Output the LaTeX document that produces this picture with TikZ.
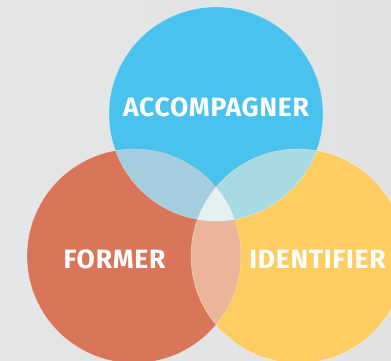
\documentclass[tikz,border=0pt]{standalone}
\usepackage{fontspec}
\setmainfont{Fira Sans}[LetterSpace=2.8]
\definecolor{bgL}{HTML}{E5E6E7}
\definecolor{bgM}{HTML}{EEEFF0}
\definecolor{bgR}{HTML}{E2E2E3}
\definecolor{blueC}{HTML}{4AC2EE}
\definecolor{orangeC}{HTML}{D9765A}
\definecolor{yellowC}{HTML}{FECD62}
\definecolor{boC}{HTML}{A4CDDF}
\definecolor{byC}{HTML}{A7DAE2}
\definecolor{oyC}{HTML}{EBB59A}
\definecolor{allC}{HTML}{E5F0F1}
\begin{document}
\begin{tikzpicture}[x=1pt,y=-1pt,
  lbl/.style={text=white,font=\fontsize{26.5}{30}\selectfont\bfseries,anchor=base,inner sep=0pt},
  rim/.style={draw=white,draw opacity=0.35,line width=0.5pt}]
\clip (0,0) rectangle (391,361);
\shade[left color=bgL,middle color=bgM,right color=bgR] (0,0) rectangle (391,361);
\coordinate (cb) at (216,114);
\coordinate (co) at (134,256);
\coordinate (cy) at (298,256);
\fill[blueC] (cb) circle[radius=107pt];
\fill[orangeC] (co) circle[radius=107pt];
\fill[yellowC] (cy) circle[radius=107pt];
\begin{scope}
  \clip (co) circle[radius=107pt];
  \fill[oyC] (cy) circle[radius=107pt];
\end{scope}
\begin{scope}
  \clip (cb) circle[radius=107pt];
  \fill[boC] (co) circle[radius=107pt];
  \fill[byC] (cy) circle[radius=107pt];
  \clip (co) circle[radius=107pt];
  \fill[allC] (cy) circle[radius=107pt];
\end{scope}
\draw[rim] (cb) circle[radius=107pt];
\draw[rim] (co) circle[radius=107pt];
\draw[rim] (cy) circle[radius=107pt];
\node[lbl] (acc) at (216,117) {ACCOMPAGNER};
\node[lbl] (for) at (114.5,268) {FORMER};
\node[lbl] (ide) at (317.5,268) {IDENTIFIER};
\end{tikzpicture}
\end{document}
